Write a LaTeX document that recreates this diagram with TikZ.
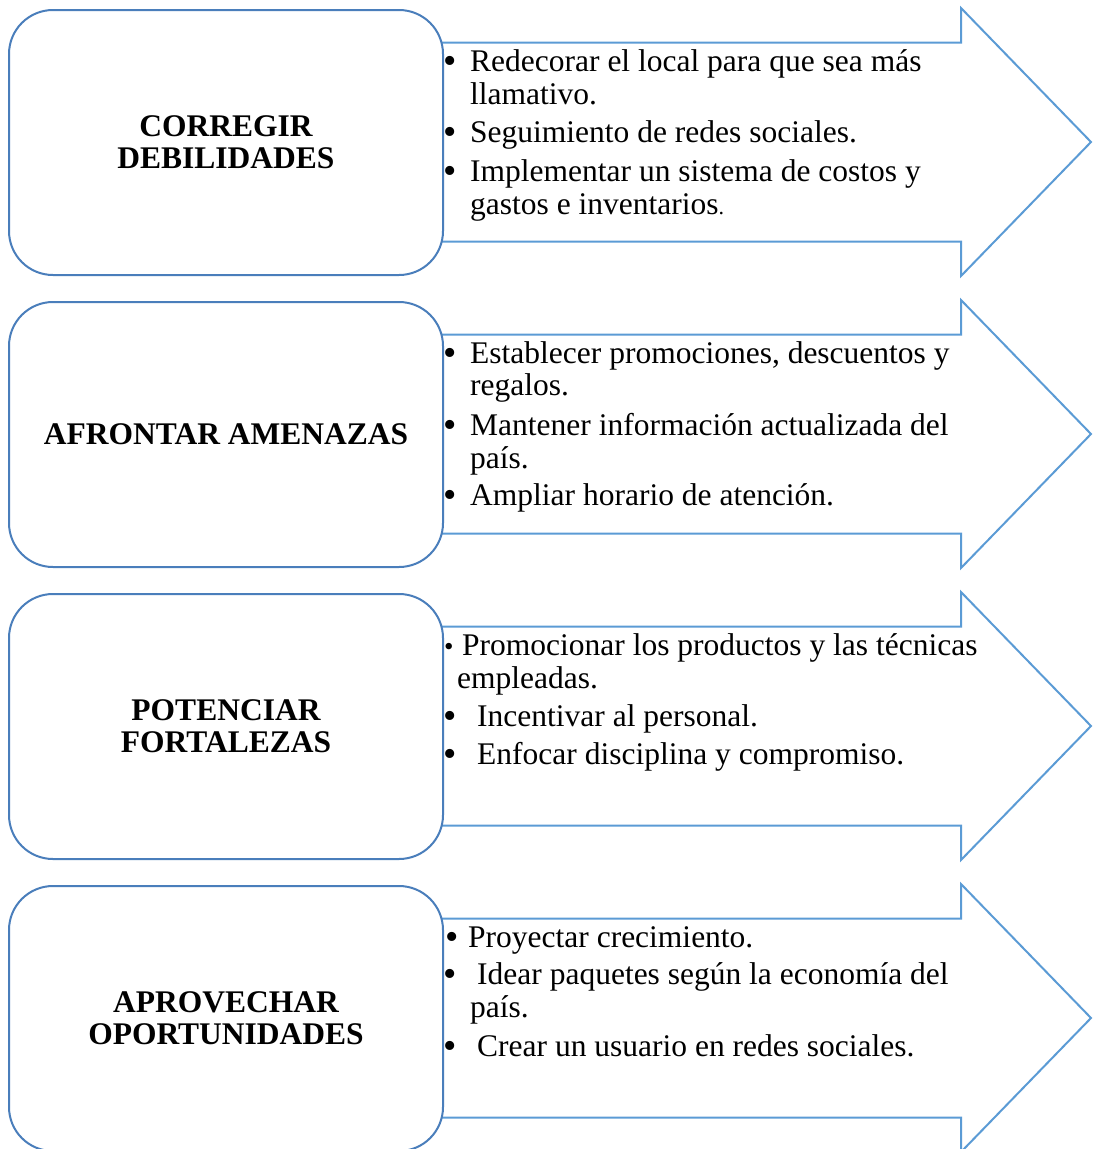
\documentclass[tikz,border=0pt]{standalone}
\usepackage{fontspec}
\setmainfont{Liberation Serif}
\definecolor{boxblue}{RGB}{74,126,187}
\definecolor{arrblue}{RGB}{91,155,213}
\tikzset{
 card/.style={draw=boxblue, line width=2pt, fill=white, rounded corners=44pt, minimum width=434pt, minimum height=265pt, inner sep=0pt},
 bigarrow/.style={draw=arrblue, line width=2pt, fill=white, line join=miter},
 title/.style={font=\fontsize{31.5}{33}\selectfont\bfseries, anchor=base, inner sep=0pt},
 item/.style={font=\fontsize{31.5}{33}\selectfont, anchor=base west, inner sep=0pt},
 bul/.style={font=\fontsize{38}{40}\selectfont, anchor=base west, inner sep=0pt, yshift=-2.5pt},
 smallbul/.style={font=\fontsize{27}{29}\selectfont, anchor=base west, inner sep=0pt},
}
\begin{document}
\begin{tikzpicture}[x=1pt,y=-1pt]
\useasboundingbox (0,0) rectangle (1093,1149);
\clip (0,0) rectangle (1093,1149);
% arrows
\foreach \c/\n in {142/1,434/2,726/3,1018/4}{
  \coordinate (tip\n) at (1091,\c);
  \draw[bigarrow] (300,\c-99.5) -- (961,\c-99.5) -- (961,\c-134) -- (tip\n) -- (961,\c+134) -- (961,\c+99.5) -- (300,\c+99.5) -- cycle;
}
% boxes
\node[card] (b1) at (226,142.5) {};
\node[card] (b2) at (226,434.5) {};
\node[card] (b3) at (226,726.5) {};
\node[card] (b4) at (226,1018.5) {};
% titles
\node[title] (t1a) at (226,136) {CORREGIR};
\node[title] (t1b) at (226,168) {DEBILIDADES};
\node[title] (t2a) at (226,444) {AFRONTAR AMENAZAS};
\node[title] (t3a) at (226,720) {POTENCIAR};
\node[title] (t3b) at (226,752) {FORTALEZAS};
\node[title] (t4a) at (226,1012) {APROVECHAR};
\node[title] (t4b) at (226,1044) {OPORTUNIDADES};
% list 1
\node[bul] (p1u1) at (443,71) {•};
\node[item] (p1l1) at (470,71) {Redecorar el local para que sea más};
\node[item] (p1l2) at (470,104) {llamativo.};
\node[bul] (p1u2) at (443,142) {•};
\node[item] (p1l3) at (470,142) {Seguimiento de redes sociales.};
\node[bul] (p1u3) at (443,181) {•};
\node[item] (p1l4) at (470,181) {Implementar un sistema de costos y};
\node[item] (p1l5) at (470,214) {gastos e inventarios{\fontsize{22}{24}\selectfont.}};
% list 2
\node[bul] (p2u1) at (443,363) {•};
\node[item] (p2l1) at (470,363) {Establecer promociones, descuentos y};
\node[item] (p2l2) at (470,395) {regalos.};
\node[bul] (p2u2) at (443,435) {•};
\node[item] (p2l3) at (470,435) {Mantener información actualizada del};
\node[item] (p2l4) at (470,468) {país.};
\node[bul] (p2u3) at (443,505) {•};
\node[item] (p2l5) at (470,505) {Ampliar horario de atención.};
% list 3
\node[smallbul] (p3u1) at (444,655) {•};
\node[item] (p3l1) at (462,655) {Promocionar los productos y las técnicas};
\node[item] (p3l2) at (457,688) {empleadas.};
\node[bul] (p3u2) at (443,726) {•};
\node[item] (p3l3) at (477,726) {Incentivar al personal.};
\node[bul] (p3u3) at (443,764) {•};
\node[item] (p3l4) at (477,764) {Enfocar disciplina y compromiso.};
% list 4
\node[bul] (p4u1) at (445,947) {•};
\node[item] (p4l1) at (468,947) {Proyectar crecimiento.};
\node[bul] (p4u2) at (443,984) {•};
\node[item] (p4l2) at (477,984) {Idear paquetes según la economía del};
\node[item] (p4l3) at (470,1017) {país.};
\node[bul] (p4u3) at (443,1056) {•};
\node[item] (p4l4) at (477,1056) {Crear un usuario en redes sociales.};
\end{tikzpicture}
\end{document}
